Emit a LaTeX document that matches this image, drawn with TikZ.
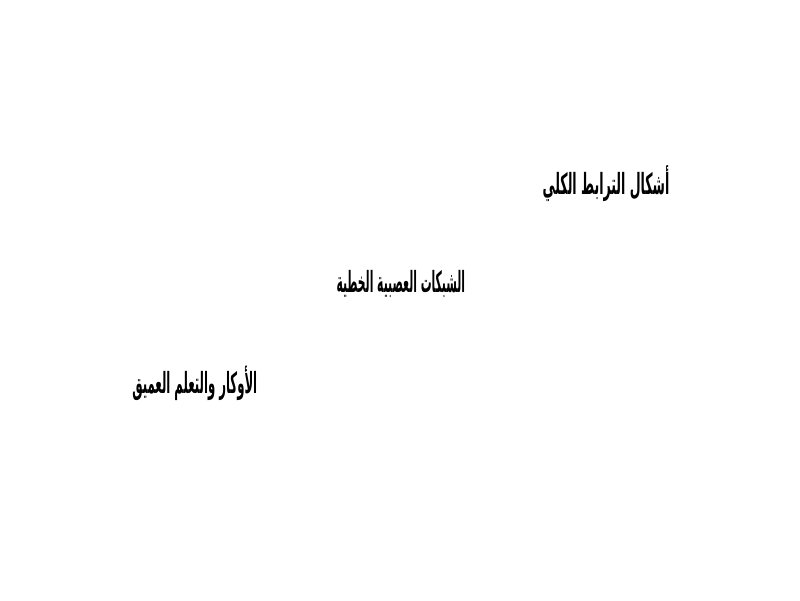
\documentclass[tikz,border=0pt]{standalone}
\usepackage{fontspec}
\TeXXeTstate=1
\newfontfamily\arabicfont[Script=Arabic]{DejaVu Sans}
\tikzset{label/.style={font=\arabicfont\bfseries\huge, inner sep=0pt}}

\begin{document}
\begin{tikzpicture}
  \useasboundingbox (0,0) rectangle (20,15);
  \node[label, xscale=0.43] (top) at (15.15,10.42) {\beginR أشكال الترابط الكلي\endR};
  \node[label, xscale=0.37] (mid) at (10.02,7.9) {\beginR الشبكات العصبية الخطية\endR};
  \node[label, xscale=0.40] (low) at (4.87,5.42) {\beginR الأوكار والتعلم العميق\endR};
\end{tikzpicture}
\end{document}
